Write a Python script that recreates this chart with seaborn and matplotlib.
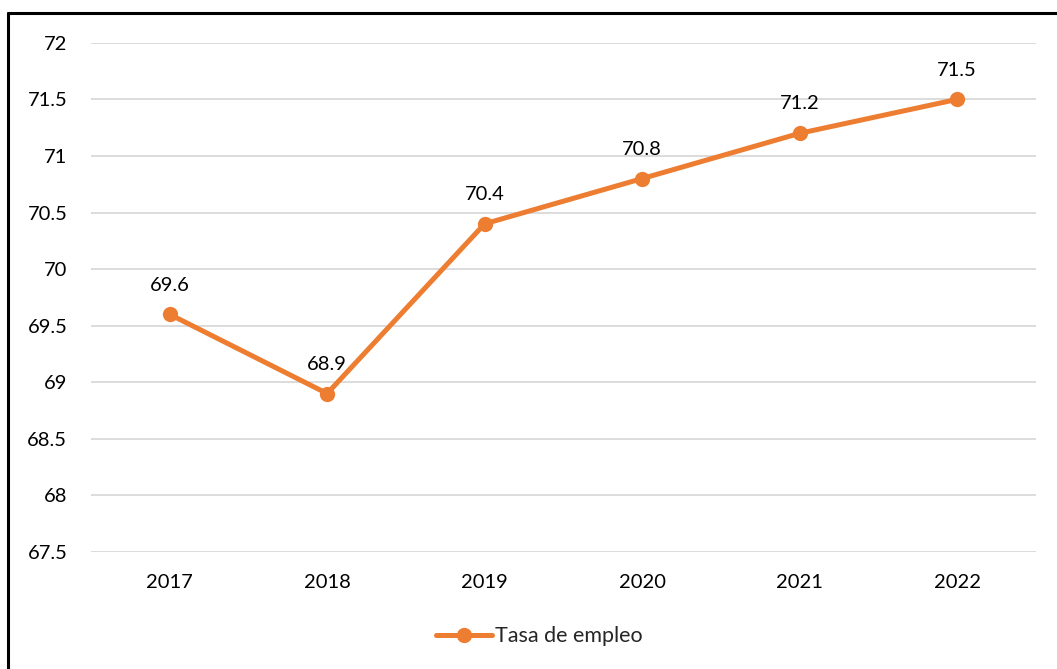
import matplotlib
matplotlib.use('Agg')
import matplotlib.pyplot as plt
import seaborn as sns
import pandas as pd
from matplotlib.lines import Line2D

# datos
years = ['2017', '2018', '2019', '2020', '2021', '2022']
tasa = [69.6, 68.9, 70.4, 70.8, 71.2, 71.5]
yticks = [67.5, 68, 68.5, 69, 69.5, 70, 70.5, 71, 71.5, 72]
ytick_labels = ['67.5', '68', '68.5', '69', '69.5', '70', '70.5', '71', '71.5', '72']
serie = 'Tasa de empleo'

df = pd.DataFrame({'year': years, 'tasa': tasa})

sns.set_theme(style='white')
plt.rcParams['font.family'] = ['Lato', 'DejaVu Sans']

naranja = '#ED7D31'

fig = plt.figure(figsize=(10.57, 6.69), dpi=100)
ax = fig.add_axes([0.086, 0.175, 0.894, 0.761])

sns.lineplot(data=df, x='year', y='tasa', ax=ax, color=naranja, linewidth=3.6,
             marker='o', markersize=11, markeredgewidth=0, label=serie, sort=False)

ax.set_xlim(-0.5, 5.5)
ax.set_ylim(67.5, 72)
ax.set_yticks(yticks)
ax.set_yticklabels(ytick_labels)
ax.yaxis.grid(True, color='#d9d9d9', linewidth=1.3)
ax.set_axisbelow(True)
for s in ax.spines.values():
    s.set_visible(False)
ax.tick_params(axis='both', length=0, labelsize=14.5, colors='#000000')
ax.tick_params(axis='y', pad=17)
ax.tick_params(axis='x', pad=16)
ax.set_xlabel('')
ax.set_ylabel('')

# etiquetas de datos
for i, v in enumerate(tasa):
    ax.annotate('%.1f' % v, (i, v), xytext=(0, 15), textcoords='offset points',
                ha='center', va='bottom', fontsize=14.5, color='#000000')

leg = ax.legend(loc='center', bbox_to_anchor=(0.510, 0.049), bbox_transform=fig.transFigure,
                frameon=False, fontsize=15.5, handlelength=2.6, handletextpad=0.15)

# borde del cuadro
fig.add_artist(Line2D([8 / 1057, 8 / 1057], [0, 1 - 13 / 669], color='black', linewidth=2.2,
                      transform=fig.transFigure))
fig.add_artist(Line2D([8 / 1057, 1], [1 - 13 / 669, 1 - 13 / 669], color='black', linewidth=2.2,
                      transform=fig.transFigure))

fig.savefig('out.png', dpi=100)
